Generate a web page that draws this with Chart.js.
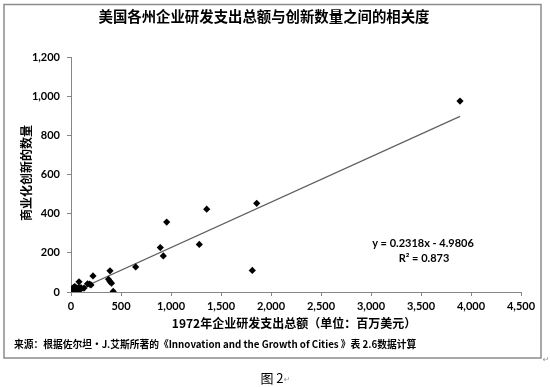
<!DOCTYPE html>
<html>
<head>
<meta charset="utf-8">
<script src="https://cdn.jsdelivr.net/npm/chart.js@4"></script>
<style>
html,body{margin:0;padding:0;background:#fff;}
#wrap{width:550px;height:387px;}
</style>
</head>
<body>
<div id="wrap"><canvas id="c" width="550" height="387"></canvas></div>
<script>
// ---- data ----
const titleText = "美国各州企业研发支出总额与创新数量之间的相关度";
const xAxisTitle = "1972年企业研发支出总额（单位：百万美元）";
const yAxisTitle = "商业化创新的数量";
const sourceText = "来源：根据佐尔坦·J.艾斯所著的《Innovation and the Growth of Cities 》表 2.6数据计算";
const captionText = "图 2";
const equationLines = ["y = 0.2318x - 4.9806", "R² = 0.873"];
const trendCoef = [0.2318, -4.9806]; // slope, intercept

const rdSpending = [3890, 1857, 1813, 1357, 1283, 957, 893, 923, 647, 390, 375, 390, 405, 422,
  220, 185, 165, 200, 130, 95, 80, 75, 60, 55, 45, 40, 30, 25, 15, 10, 60, 100, 35, 5];
const innovations = [975, 453, 110, 423, 243, 357, 227, 184, 128, 108, 65, 53, 45, 3,
  82, 40, 42, 36, 20, 13, 52, 22, 15, 8, 25, 18, 10, 22, 5, 12, 2, 22, 28, 15];

const xTicks = [0, 500, 1000, 1500, 2000, 2500, 3000, 3500, 4000, 4500];
const yTicks = [0, 200, 400, 600, 800, 1000, 1200];

const points = rdSpending.map((x, i) => ({x: x, y: innovations[i]}));
const xMinData = Math.min(...rdSpending), xMaxData = Math.max(...rdSpending);
const trendPts = [xMinData, xMaxData].map(x => ({x: x, y: trendCoef[0] * x + trendCoef[1]}));

const AXIS_COLOR = '#868686';
const tickFont = {family: 'Lato', size: 11, weight: 'bold'};

const decor = {
  id: 'decor',
  afterDraw(chart) {
    const ctx = chart.ctx;
    ctx.save();
    // outer box
    ctx.strokeStyle = '#8c8c8c';
    ctx.lineWidth = 1.5;
    ctx.strokeRect(4, 4.5, 537, 353.5);
    ctx.fillStyle = '#000';
    ctx.textAlign = 'center';
    ctx.textBaseline = 'middle';
    // title
    ctx.font = 'bold 14.4px "Noto Sans CJK SC"';
    ctx.fillText(titleText, 264, 17);
    // y axis title
    ctx.save();
    ctx.translate(26, 173);
    ctx.rotate(-Math.PI / 2);
    ctx.font = 'bold 12px "Noto Sans CJK SC"';
    ctx.fillText(yAxisTitle, 0, 0);
    ctx.restore();
    // x axis title
    ctx.font = 'bold 12px "Noto Sans CJK SC"';
    ctx.fillText(xAxisTitle, 294, 323);
    // source
    ctx.textAlign = 'left';
    ctx.font = 'bold 9.75px "Noto Sans CJK SC"';
    ctx.fillText(sourceText, 14, 344);
    // equation
    ctx.textAlign = 'center';
    ctx.font = 'bold 11px Lato';
    ctx.fillText(equationLines[0], 423, 243);
    ctx.fillText(equationLines[1], 424, 258);
    // caption
    ctx.font = '13px "Noto Sans CJK SC"';
    ctx.fillText(captionText, 272, 378);
    ctx.fillStyle = '#999';
    ctx.font = '8px "DejaVu Sans"';
    ctx.fillText('↵', 287, 380);
    ctx.fillText('↵', 546, 360);
    ctx.restore();
  }
};

new Chart(document.getElementById('c'), {
  type: 'scatter',
  data: {
    datasets: [
      {
        data: points,
        pointStyle: 'rectRot',
        pointRadius: 3.6,
        backgroundColor: '#000',
        borderColor: '#000',
        borderWidth: 0,
        showLine: false
      },
      {
        type: 'line',
        data: trendPts,
        borderColor: '#606060',
        borderWidth: 1.2,
        pointRadius: 0,
        fill: false
      }
    ]
  },
  options: {
    responsive: false,
    animation: false,
    events: [],
    layout: {padding: {left: 0, top: 57, right: 29, bottom: 0}},
    plugins: {legend: {display: false}, tooltip: {enabled: false}, title: {display: false}},
    scales: {
      x: {
        type: 'linear',
        min: xTicks[0], max: xTicks[xTicks.length - 1],
        afterBuildTicks(s) { s.ticks = xTicks.map(v => ({value: v})); },
        afterFit(s) { s.height = 95; },
        ticks: {
          color: '#000', font: tickFont, padding: 4,
          callback: v => v.toLocaleString('en-US'),
          maxRotation: 0, autoSkip: false
        },
        grid: {display: true, drawOnChartArea: false, drawTicks: true, tickLength: 4, color: AXIS_COLOR},
        border: {display: true, color: AXIS_COLOR, width: 1}
      },
      y: {
        type: 'linear',
        min: yTicks[0], max: yTicks[yTicks.length - 1],
        afterBuildTicks(s) { s.ticks = yTicks.map(v => ({value: v})); },
        afterFit(s) { s.width = 71; },
        ticks: {
          color: '#000', font: tickFont, padding: 7,
          callback: v => v.toLocaleString('en-US')
        },
        grid: {display: true, drawOnChartArea: false, drawTicks: true, tickLength: 4, color: AXIS_COLOR},
        border: {display: true, color: AXIS_COLOR, width: 1}
      }
    }
  },
  plugins: [decor]
});
</script>
</body>
</html>
